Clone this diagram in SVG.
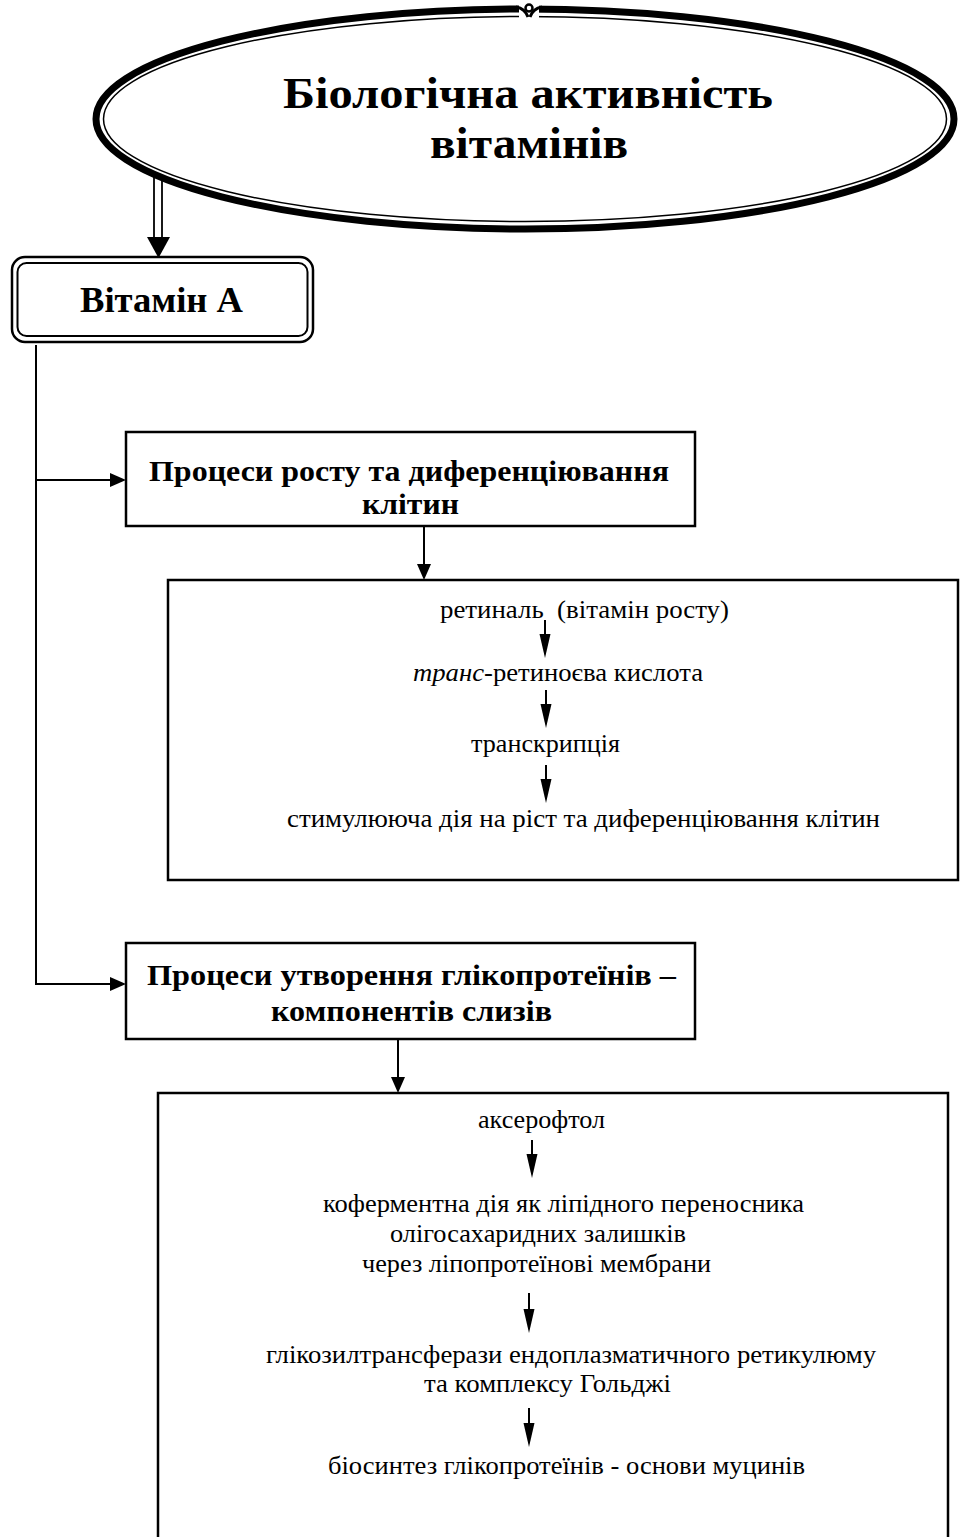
<svg xmlns="http://www.w3.org/2000/svg" width="960" height="1537" viewBox="0 0 960 1537">
  <style>
    text { font-family: "Liberation Serif", "Times New Roman", serif; fill: #000; }
    .title { font-size: 44px; font-weight: bold; }
    .head { font-size: 29px; font-weight: bold; }
    .body { font-size: 26px; }
    .box { fill: #fff; stroke: #000; stroke-width: 2.5; }
    .line { fill: none; stroke: #000; stroke-width: 2; }
    .thin { fill: none; stroke: #000; stroke-width: 1.8; }
    .head-fill { fill: #000; stroke: none; }
  </style>

  <!-- Title oval with thick-thin double border -->
  <g id="title">
    <ellipse cx="525" cy="119" rx="429" ry="110" fill="#fff" stroke="#000" stroke-width="7"/>
    <ellipse cx="525" cy="119" rx="421.5" ry="102.5" fill="none" stroke="#000" stroke-width="1.5"/>
    <!-- small break with curl at the top of the border -->
    <rect x="519" y="0" width="20" height="20" fill="#fff"/>
    <path d="M516,7 C522,8 526,11 528,17" fill="none" stroke="#000" stroke-width="3"/>
    <path d="M542,7 C536,8 532,11 530,17" fill="none" stroke="#000" stroke-width="3"/>
    <circle cx="529" cy="8" r="3.5" fill="none" stroke="#000" stroke-width="2.5"/>
    <text class="title" x="283" y="108" textLength="490" lengthAdjust="spacingAndGlyphs">Біологічна активність</text>
    <text class="title" x="430" y="158" textLength="198" lengthAdjust="spacingAndGlyphs">вітамінів</text>
  </g>

  <!-- Vitamin A: double rounded frame -->
  <g id="vitamin-a">
    <rect x="12" y="257" width="301" height="85" rx="13" class="box"/>
    <rect x="17.5" y="263" width="290" height="73" rx="9" fill="none" stroke="#000" stroke-width="2"/>
    <text class="head" x="80" y="312" textLength="163" lengthAdjust="spacingAndGlyphs" style="font-size:36px">Вітамін А</text>
  </g>

  <!-- Growth and differentiation -->
  <g id="growth">
    <rect x="126" y="432" width="569" height="94" class="box"/>
    <text class="head" x="149" y="481" textLength="520" lengthAdjust="spacingAndGlyphs">Процеси росту та диференціювання</text>
    <text class="head" x="362" y="514" textLength="97" lengthAdjust="spacingAndGlyphs">клітин</text>
  </g>

  <g id="growth-detail">
    <rect x="168" y="580" width="790" height="300" class="box"/>
    <text class="body" x="440" y="618" xml:space="preserve" textLength="289" lengthAdjust="spacingAndGlyphs">ретиналь  (вітамін росту)</text>
    <text class="body" x="413" y="681" textLength="290" lengthAdjust="spacingAndGlyphs"><tspan font-style="italic">транс</tspan>-ретиноєва кислота</text>
    <text class="body" x="471" y="752" textLength="149" lengthAdjust="spacingAndGlyphs">транскрипція</text>
    <text class="body" x="287" y="827" textLength="593" lengthAdjust="spacingAndGlyphs">стимулююча дія на ріст та диференціювання клітин</text>
  </g>

  <!-- Glycoprotein formation -->
  <g id="glycoproteins">
    <rect x="126" y="943" width="569" height="96" class="box"/>
    <text class="head" x="147" y="985" textLength="529" lengthAdjust="spacingAndGlyphs" style="font-size:30px">Процеси утворення глікопротеїнів –</text>
    <text class="head" x="271" y="1021" textLength="281" lengthAdjust="spacingAndGlyphs" style="font-size:30px">компонентів слизів</text>
  </g>

  <g id="glycoproteins-detail">
    <rect x="158" y="1093" width="790" height="460" class="box"/>
    <text class="body" x="478" y="1128" textLength="127" lengthAdjust="spacingAndGlyphs">аксерофтол</text>
    <text class="body" x="323" y="1212" textLength="481" lengthAdjust="spacingAndGlyphs">коферментна дія як ліпідного переносника</text>
    <text class="body" x="390" y="1242" textLength="296" lengthAdjust="spacingAndGlyphs">олігосахаридних залишків</text>
    <text class="body" x="362" y="1272" textLength="349" lengthAdjust="spacingAndGlyphs">через ліпопротеїнові мембрани</text>
    <text class="body" x="266" y="1363" textLength="610" lengthAdjust="spacingAndGlyphs">глікозилтрансферази ендоплазматичного ретикулюму</text>
    <text class="body" x="424" y="1392" textLength="247" lengthAdjust="spacingAndGlyphs">та комплексу Гольджі</text>
    <text class="body" x="328" y="1474" textLength="477" lengthAdjust="spacingAndGlyphs">біосинтез глікопротеїнів - основи муцинів</text>
  </g>

  <!-- Connectors -->
  <g id="connectors">
    <!-- double shaft from the oval to Vitamin A -->
    <line x1="154" y1="175" x2="154" y2="238" class="thin"/>
    <line x1="162" y1="176" x2="162" y2="238" class="thin"/>
    <polygon points="147,237 170,237 158.5,258" class="head-fill"/>

    <!-- trunk with two branches -->
    <path d="M36,345 V984 H112" class="line"/>
    <path d="M36,480 H112" class="line"/>
    <polygon points="110,473 126,480 110,487" class="head-fill"/>
    <polygon points="110,977 126,984 110,991" class="head-fill"/>

    <!-- header boxes to detail boxes -->
    <line x1="424" y1="526" x2="424" y2="566" class="line"/>
    <polygon points="417,564 431,564 424,580" class="head-fill"/>
    <line x1="398" y1="1039" x2="398" y2="1079" class="line"/>
    <polygon points="391,1077 405,1077 398,1093" class="head-fill"/>

    <!-- inner step arrows -->
    <line x1="545" y1="620" x2="545" y2="640" class="line"/>
    <polygon points="539.5,634 550.5,634 545,658" class="head-fill"/>
    <line x1="546" y1="690" x2="546" y2="710" class="line"/>
    <polygon points="540.5,704 551.5,704 546,728" class="head-fill"/>
    <line x1="546" y1="765" x2="546" y2="785" class="line"/>
    <polygon points="540.5,779 551.5,779 546,803" class="head-fill"/>

    <line x1="532" y1="1140" x2="532" y2="1160" class="line"/>
    <polygon points="526.5,1154 537.5,1154 532,1178" class="head-fill"/>
    <line x1="529" y1="1293" x2="529" y2="1315" class="line"/>
    <polygon points="523.5,1309 534.5,1309 529,1333" class="head-fill"/>
    <line x1="529" y1="1408" x2="529" y2="1429" class="line"/>
    <polygon points="523.5,1423 534.5,1423 529,1447" class="head-fill"/>
  </g>
</svg>
